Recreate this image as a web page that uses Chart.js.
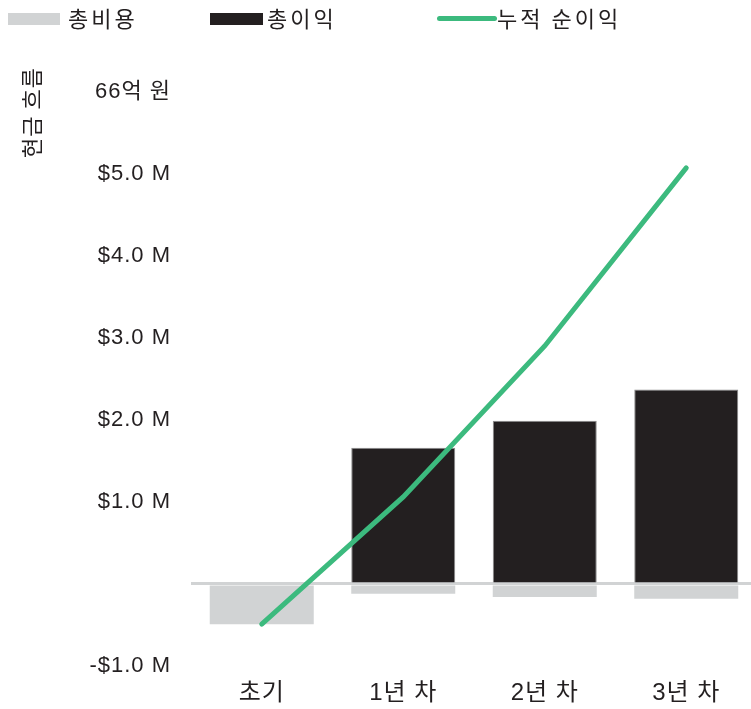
<!DOCTYPE html>
<html>
<head>
<meta charset="utf-8">
<script src="https://cdn.jsdelivr.net/npm/chart.js@4"></script>
<style>
  html, body { margin: 0; padding: 0; background: #fff; overflow: hidden; }
  #wrap { position: relative; width: 751px; height: 709px; overflow: hidden; }
  #legend { position: absolute; left: 0; top: 0; width: 751px; height: 40px;
            font-family: 'Noto Sans CJK KR', sans-serif; font-size: 22px; letter-spacing: 3px; color: #231f20; }
  .item { position: absolute; top: 3px; height: 28px; line-height: 28px; white-space: nowrap; }
  .swatch { position: absolute; height: 12px; }
  canvas { position: absolute; left: 0; top: 0; }
</style>
</head>
<body>
<div id="wrap">
  <canvas id="cashChart" width="757" height="709"></canvas>
  <div id="legend"></div>
</div>
<script>
var categories = ['초기', '1년 차', '2년 차', '3년 차'];
var totalCost = [-0.49, -0.12, -0.16, -0.18];
var totalProfit = [0, 1.66, 1.99, 2.37];
var cumulativeNet = [-0.49, 1.06, 2.9, 5.07];
var tickValues = [-1, 0, 1, 2, 3, 4, 5, 6];
var tickLabels = ['-$1.0 M', '', '$1.0 M', '$2.0 M', '$3.0 M', '$4.0 M', '$5.0 M', '66억 원'];

var seriesNames = ['총비용', '총이익', '누적 순이익'];
var seriesColors = ['#d1d3d4', '#231f20', '#3cba7e'];

// legend drawn as html so the gaps can follow the picture
var legendPos = [
    { x: 8, w: 52, text: 68, line: false },
    { x: 210, w: 53, text: 267, line: false },
    { x: 437, w: 60, text: 497, line: true }
];
var legend = document.getElementById('legend');
legendPos.forEach(function (p, i) {
    var sw = document.createElement('div');
    sw.className = 'swatch';
    sw.style.left = p.x + 'px';
    sw.style.width = p.w + 'px';
    sw.style.background = seriesColors[i];
    if (p.line) {
        sw.style.top = '16px';
        sw.style.height = '5px';
        sw.style.borderRadius = '3px';
    } else {
        sw.style.top = '13px';
    }
    legend.appendChild(sw);
    var t = document.createElement('div');
    t.className = 'item';
    t.style.left = p.text + 'px';
    t.textContent = seriesNames[i];
    legend.appendChild(t);
});

var fontFamily = "'Liberation Sans', 'Noto Sans CJK KR', sans-serif";

// the picture's text is a bit spaced out
var spacing = {
    id: 'spacing',
    beforeUpdate: function (chart) { chart.ctx.letterSpacing = '1px'; },
    beforeDraw: function (chart) { chart.ctx.letterSpacing = '1px'; }
};

var ctx = document.getElementById('cashChart').getContext('2d');
var cashChart = new Chart(ctx, {
    type: 'bar',
    plugins: [spacing],
    data: {
        labels: categories,
        datasets: [{
            type: 'line',
            label: seriesNames[2],
            data: cumulativeNet,
            borderColor: seriesColors[2],
            backgroundColor: seriesColors[2],
            borderWidth: 5,
            borderCapStyle: 'round',
            pointRadius: 0,
            tension: 0,
            stack: 'cum',
            order: 0
        }, {
            label: seriesNames[0],
            data: totalCost,
            backgroundColor: seriesColors[0],
            borderWidth: 0,
            stack: 'bars',
            order: 1
        }, {
            label: seriesNames[1],
            data: totalProfit,
            backgroundColor: seriesColors[1],
            borderColor: '#8c8c8c',
            borderWidth: 1,
            stack: 'bars',
            order: 1
        }]
    },
    options: {
        responsive: false,
        animation: false,
        layout: { padding: { top: 67, right: 0, bottom: 3, left: 0 } },
        plugins: {
            legend: { display: false },
            tooltip: { enabled: false }
        },
        datasets: {
            bar: { barPercentage: 0.735, categoryPercentage: 1 }
        },
        scales: {
            x: {
                stacked: true,
                afterFit: function (axis) { axis.height = 40; },
                grid: { display: false, drawTicks: false },
                border: { display: false },
                ticks: {
                    padding: 13,
                    color: '#231f20',
                    font: { family: fontFamily, size: 24 }
                }
            },
            y: {
                stacked: true,
                min: -1,
                max: 6.3,
                afterBuildTicks: function (axis) {
                    axis.ticks = tickValues.map(function (v) { return { value: v }; });
                },
                afterFit: function (axis) { axis.width = 191; },
                grid: {
                    drawTicks: false,
                    color: function (c) { return c.tick && c.tick.value === 0 ? '#d1d3d4' : 'rgba(0,0,0,0)'; },
                    lineWidth: 3
                },
                border: { display: false },
                ticks: {
                    padding: 20,
                    color: '#231f20',
                    font: { family: fontFamily, size: 22 },
                    callback: function (v) { return tickLabels[tickValues.indexOf(v)]; }
                },
                title: {
                    display: true,
                    text: '현금 흐름',
                    align: 'end',
                    color: '#231f20',
                    padding: { top: 18, bottom: 0 },
                    font: { family: "'Noto Sans CJK KR', sans-serif", size: 22 }
                }
            }
        }
    }
});
</script>
</body>
</html>
